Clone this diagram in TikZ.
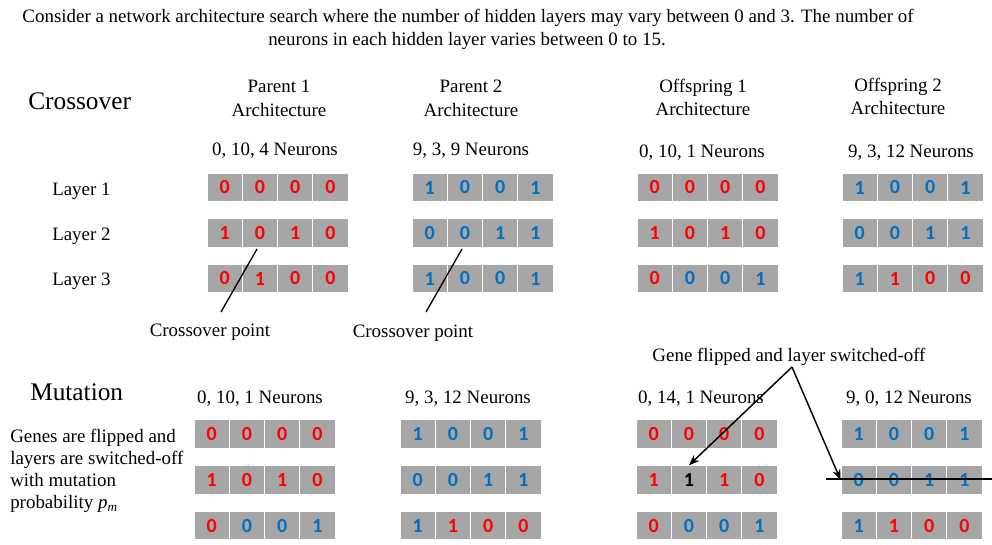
\documentclass[tikz,border=0pt]{standalone}
\usepackage{fontspec}
\setmainfont{Liberation Serif}
\newfontfamily\digitfont{Carlito}
\usetikzlibrary{arrows.meta}
\definecolor{bitred}{RGB}{255,0,0}
\definecolor{bitblue}{RGB}{0,112,192}
\definecolor{cellgray}{RGB}{166,166,166}
\newcommand\bitrow[4]{%
  \foreach \d/\c [count=\i] in {#4} {%
    \node[cell,text=\c] (#1-\i) at ({#2+35.25*(\i-0.5)},#3) {\d};}}
\begin{document}
\begin{tikzpicture}[x=0.75pt,y=-0.75pt,
  cell/.style={fill=cellgray, draw=white, line width=0.6pt,
    minimum width=26.44pt, minimum height=21.4pt, inner sep=0pt,
    font=\digitfont\bfseries\fontsize{15}{17}\selectfont},
  txt/.style={font=\fontsize{14.2}{16.6}\selectfont, inner sep=0pt, anchor=base},
  big/.style={font=\fontsize{19}{23}\selectfont, inner sep=0pt, anchor=base west},
  cut/.style={line width=1pt},
  arr/.style={line width=1.1pt, -{Stealth[length=8pt,width=6pt]}}]
\useasboundingbox (0,0) rectangle (992,544);

% title
\node[txt] (t1) at (468,22) {Consider a network architecture search where the number of hidden layers may vary between 0 and 3. The number of};
\node[txt] (t2) at (467,45) {neurons in each hidden layer varies between 0 to 15.};

% crossover section
\node[big] (cross) at (28,109) {Crossover};
\node[txt] (p1a) at (279,92) {Parent 1};
\node[txt] (p1b) at (279,116) {Architecture};
\node[txt] (p1n) at (275,155) {0, 10, 4 Neurons};
\node[txt] (p2a) at (471,92) {Parent 2};
\node[txt] (p2b) at (471,116) {Architecture};
\node[txt] (p2n) at (471,155) {9, 3, 9 Neurons};
\node[txt] (o1a) at (703,92) {Offspring 1};
\node[txt] (o1b) at (703,115) {Architecture};
\node[txt] (o1n) at (702,157) {0, 10, 1 Neurons};
\node[txt] (o2a) at (898,91) {Offspring 2};
\node[txt] (o2b) at (898,114) {Architecture};
\node[txt] (o2n) at (911,157) {9, 3, 12 Neurons};

\node[txt,anchor=base west] (l1) at (52,195) {Layer 1};
\node[txt,anchor=base west] (l2) at (52,240) {Layer 2};
\node[txt,anchor=base west] (l3) at (52,285) {Layer 3};

% parent 1
\bitrow{pa1}{207}{187.5}{0/bitred,0/bitred,0/bitred,0/bitred}
\bitrow{pa2}{207}{233}{1/bitred,0/bitred,1/bitred,0/bitred}
\bitrow{pa3}{207}{278.5}{0/bitred,1/bitred,0/bitred,0/bitred}
% parent 2
\bitrow{pb1}{412}{187.5}{1/bitblue,0/bitblue,0/bitblue,1/bitblue}
\bitrow{pb2}{412}{233}{0/bitblue,0/bitblue,1/bitblue,1/bitblue}
\bitrow{pb3}{412}{278.5}{1/bitblue,0/bitblue,0/bitblue,1/bitblue}
% offspring 1
\bitrow{oa1}{637}{187.5}{0/bitred,0/bitred,0/bitred,0/bitred}
\bitrow{oa2}{637}{233}{1/bitred,0/bitred,1/bitred,0/bitred}
\bitrow{oa3}{637}{278.5}{0/bitred,0/bitblue,0/bitblue,1/bitblue}
% offspring 2
\bitrow{ob1}{842}{187.5}{1/bitblue,0/bitblue,0/bitblue,1/bitblue}
\bitrow{ob2}{842}{233}{0/bitblue,0/bitblue,1/bitblue,1/bitblue}
\bitrow{ob3}{842}{278.5}{1/bitblue,1/bitred,0/bitred,0/bitred}

% crossover points
\coordinate (c1a) at (221,312);
\coordinate (c1b) at (257,249);
\coordinate (c2a) at (426,312);
\coordinate (c2b) at (462,249);
\draw[cut] (c1a) -- (c1b);
\draw[cut] (c2a) -- (c2b);
\node[txt] (cp1) at (210,336) {Crossover point};
\node[txt] (cp2) at (413,337) {Crossover point};

% mutation section
\node[big] (mut) at (30,400) {Mutation};
\node[txt,anchor=base west,align=left] (mtxt) at (10,508.5) {Genes are flipped and\\layers are switched-off\\with mutation\\probability \textit{p}\textsubscript{\textit{m}}};
\node[txt] (m1n) at (260,403) {0, 10, 1 Neurons};
\node[txt] (m2n) at (468,403) {9, 3, 12 Neurons};
\node[txt] (m3n) at (701,403) {0, 14, 1 Neurons};
\node[txt] (m4n) at (909,403) {9, 0, 12 Neurons};
\node[txt] (gene) at (789,361) {Gene flipped and layer switched-off};

\bitrow{ma1}{194}{434}{0/bitred,0/bitred,0/bitred,0/bitred}
\bitrow{ma2}{194}{480}{1/bitred,0/bitred,1/bitred,0/bitred}
\bitrow{ma3}{194}{525.5}{0/bitred,0/bitblue,0/bitblue,1/bitblue}
\bitrow{mb1}{400}{434}{1/bitblue,0/bitblue,0/bitblue,1/bitblue}
\bitrow{mb2}{400}{480}{0/bitblue,0/bitblue,1/bitblue,1/bitblue}
\bitrow{mb3}{400}{525.5}{1/bitblue,1/bitred,0/bitred,0/bitred}
\bitrow{mc1}{636}{434}{0/bitred,0/bitred,0/bitred,0/bitred}
\bitrow{mc2}{636}{480}{1/bitred,1/black,1/bitred,0/bitred}
\bitrow{mc3}{636}{525.5}{0/bitred,0/bitblue,0/bitblue,1/bitblue}
\bitrow{md1}{841}{434}{1/bitblue,0/bitblue,0/bitblue,1/bitblue}
\bitrow{md2}{841}{480}{0/bitblue,0/bitblue,1/bitblue,1/bitblue}
\bitrow{md3}{841}{525.5}{1/bitblue,1/bitred,0/bitred,0/bitred}

% switch-off line and arrows
\coordinate (apex) at (792,367);
\coordinate (offa) at (826,479);
\coordinate (offb) at (992,479);
\draw[line width=0.8pt] (offa) -- (offb);
\draw[arr] (apex) -- (mc2-2.north);
\draw[arr] (apex) -- (md2-1.west);
\end{tikzpicture}
\end{document}
